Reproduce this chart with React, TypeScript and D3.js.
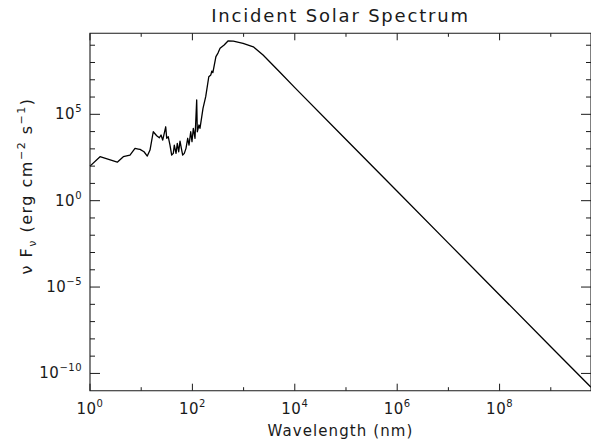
import React from "react";
import * as d3 from "d3";

// Wavelength (nm) and nu*F_nu (erg cm^-2 s^-1)
const wavelength: number[] = [
  1, 1.57, 3.41, 4.47, 6.04, 7.57, 8.77, 9.49, 11.35, 13.15, 14.86, 17.2, 20.1, 22.6, 24.4,
  26.3, 27.9, 30.1, 31.5, 33.8, 36.5, 39.4, 42.4, 44.3, 47.9, 50.7, 54.0, 57.3, 61.8, 64.6,
  69.5, 75.0, 80.9, 85.9, 92.7, 98.2, 104.2, 112.5, 121.3, 124.7, 134.6, 140.6, 152.1, 161.1,
  182, 209, 229, 240, 251, 288, 316, 347, 417, 501, 631, 977, 1549, 2399, 5129,
  1e4, 1e5, 1e6, 1e7, 1e8, 1e9, 6.1e9,
];
const flux: number[] = [
  1.0e2, 3.5e2, 1.7e2, 3.5e2, 4.4e2, 1.07e3, 9.8e2, 9.3e2, 6.8e2, 3.85e2, 8.5e2, 9.8e3, 5.75e3, 4.4e3, 6.3e3,
  3.2e3, 6.9e3, 1.9e4, 4.1e3, 5.0e3, 1.66e3, 4.4e2, 5.5e2, 1.66e3, 5.5e2, 2.1e3, 6.8e2, 2.8e3, 8.5e2, 4.4e2,
  5.5e2, 1.07e3, 4.1e3, 1.66e3, 9.8e3, 2.6e3, 1.55e4, 4.1e3, 6.8e5, 9.8e3, 2.4e4, 1.55e4, 7.2e4, 2.2e5,
  1.05e6, 1.5e7, 1.9e7, 3.2e7, 2.6e7, 2.2e8, 3.5e8, 6.6e8, 1.02e9, 1.8e9, 1.74e9, 1.29e9, 8.1e8, 2.7e8, 2.7e7,
  3.5e6, 3.5e3, 3.5, 3.5e-3, 3.5e-6, 3.5e-9, 1.6e-11,
];

const xMajorExp: number[] = [0, 2, 4, 6, 8];
const xMinorExp: number[] = [1, 3, 5, 7, 9];
const yMajorExp: number[] = [-10, -5, 0, 5];
const yMinorExp: number[] = [-9, -8, -7, -6, -4, -3, -2, -1, 1, 2, 3, 4, 6, 7, 8, 9];

const titleText = "Incident Solar Spectrum";
const xLabel = "Wavelength (nm)";

const W = 591;
const H = 441;
const L = 90;
const R = 591;
const T = 33.3;
const B = 390.7;
const FONT = "'DejaVu Sans', sans-serif";
const INK = "#1a1a1a";

export default function App() {
  const x = d3.scaleLog().domain([1, 6.1e9]).range([L, R]);
  const y = d3.scaleLog().domain([1e-11, Math.pow(10, 9.69)]).range([B, T]);
  const pts: [number, number][] = wavelength.map((w, i) => [w, flux[i]]);
  const line = d3
    .line<[number, number]>()
    .x((d) => x(d[0]))
    .y((d) => y(d[1]));

  const xMajLen = 7;
  const xMinLen = 3.5;
  const yMajLen = 10;
  const yMinLen = 5;

  return (
    <svg
      width={W}
      height={H}
      style={{ position: "fixed", left: 0, top: 0, background: "#fff" }}
      fontFamily={FONT}
    >
      <rect x={0} y={0} width={W} height={H} fill="#fff" />
      <path d={line(pts) || ""} fill="none" stroke="#000" strokeWidth={1.3} strokeLinejoin="round" />
      {/* frame */}
      <path d={`M${L},${T}H${R}V${B}H${L}Z`} fill="none" stroke={INK} strokeWidth={1.1} />
      {/* x ticks */}
      {xMajorExp.map((e) => {
        const px = x(Math.pow(10, e));
        return (
          <g key={"xm" + e}>
            <line x1={px} x2={px} y1={B} y2={B - xMajLen} stroke={INK} />
            <line x1={px} x2={px} y1={T} y2={T + xMajLen} stroke={INK} />
            <text x={px} y={414} textAnchor="middle" fontSize={15} fill={INK} letterSpacing={0.5}>
              10<tspan fontSize={10} dy={-7}>{e}</tspan>
            </text>
          </g>
        );
      })}
      {xMinorExp.map((e) => {
        const px = x(Math.pow(10, e));
        return (
          <g key={"xn" + e}>
            <line x1={px} x2={px} y1={B} y2={B - xMinLen} stroke={INK} />
            <line x1={px} x2={px} y1={T} y2={T + xMinLen} stroke={INK} />
          </g>
        );
      })}
      {/* y ticks */}
      {yMajorExp.map((e) => {
        const py = y(Math.pow(10, e));
        return (
          <g key={"ym" + e}>
            <line x1={L} x2={L + yMajLen} y1={py} y2={py} stroke={INK} />
            <line x1={R} x2={R - yMajLen} y1={py} y2={py} stroke={INK} />
            <text x={82} y={py + 5} textAnchor="end" fontSize={15} fill={INK} letterSpacing={0.5}>
              10<tspan fontSize={10} dy={-7}>{e < 0 ? "\u2212" + Math.abs(e) : e}</tspan>
            </text>
          </g>
        );
      })}
      {yMinorExp.map((e) => {
        const py = y(Math.pow(10, e));
        return (
          <g key={"yn" + e}>
            <line x1={L} x2={L + yMinLen} y1={py} y2={py} stroke={INK} />
            <line x1={R} x2={R - yMinLen} y1={py} y2={py} stroke={INK} />
          </g>
        );
      })}
      {/* titles */}
      <text x={(L + R) / 2} y={22} textAnchor="middle" fontSize={18} fill={INK} letterSpacing={1.8}>
        {titleText}
      </text>
      <text x={(L + R) / 2} y={436} textAnchor="middle" fontSize={15} fill={INK} letterSpacing={1.1}>
        {xLabel}
      </text>
      <text transform="translate(32,186) rotate(-90)" textAnchor="middle" fontSize={16} fill={INK} letterSpacing={1.5}>
        {"\u03bd F"}
        <tspan fontSize={11} dy={4}>{"\u03bd"}</tspan>
        <tspan dy={-4}>{"  (erg cm"}</tspan>
        <tspan fontSize={11} dy={-7}>{"\u22122"}</tspan>
        <tspan dy={7}>{"  s"}</tspan>
        <tspan fontSize={11} dy={-7}>{"\u22121"}</tspan>
        <tspan dy={7}>{")"}</tspan>
      </text>
    </svg>
  );
}
